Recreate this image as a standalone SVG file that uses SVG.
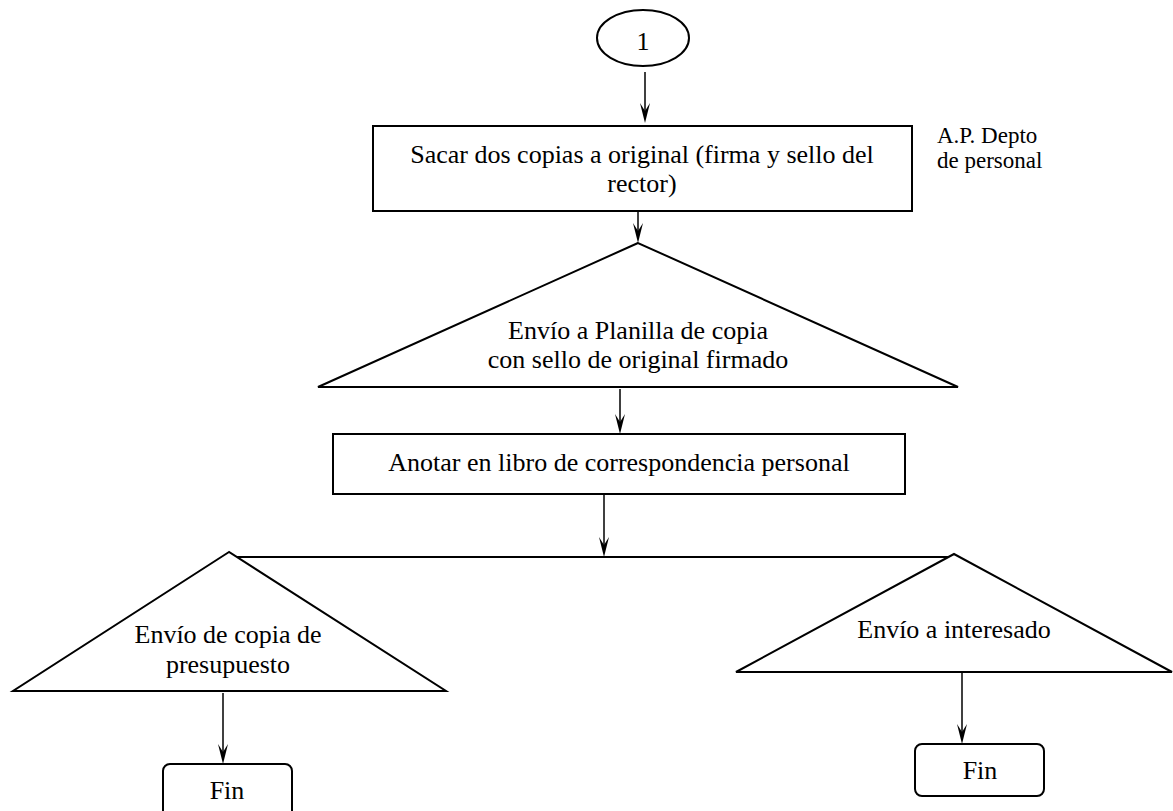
<svg xmlns="http://www.w3.org/2000/svg" width="1173" height="811" viewBox="0 0 1173 811">
<style>
.s{fill:#fff;stroke:#000;stroke-width:2}
.t{font-family:"Liberation Serif","Times New Roman",serif;font-size:26px;fill:#000;text-anchor:middle}
.l{font-family:"Liberation Serif","Times New Roman",serif;font-size:23px;fill:#000}
.c{stroke:#000;stroke-width:1.5;fill:none}
.h{fill:#000}
</style>
<rect width="1173" height="811" fill="#fff"/>
<g id="connectors">
<line class="c" x1="645" y1="72" x2="645" y2="118"/>
<path class="h" d="M640,103 L645,123 L650,103 L645,111 Z"/>
<line class="c" x1="638" y1="211" x2="638" y2="238"/>
<path class="h" d="M633,223 L638,243 L643,223 L638,231 Z"/>
<line class="c" x1="620" y1="389" x2="620" y2="428"/>
<path class="h" d="M615,414 L620,434 L625,414 L620,422 Z"/>
<line class="c" x1="604" y1="494" x2="604" y2="552"/>
<path class="h" d="M599,537 L604,557 L609,537 L604,545 Z"/>
<line x1="232" y1="557" x2="953" y2="557" stroke="#000" stroke-width="2"/>
<line class="c" x1="223" y1="693" x2="223" y2="758"/>
<path class="h" d="M218,744 L223,764 L228,744 L223,752 Z"/>
<line class="c" x1="962" y1="673" x2="962" y2="738"/>
<path class="h" d="M957,724 L962,744 L967,724 L962,732 Z"/>
</g>
<g id="n1">
<ellipse class="s" cx="643" cy="38" rx="46" ry="28"/>
<text class="t" x="643" y="50">1</text>
</g>
<g id="n2">
<rect class="s" x="373" y="126" width="539" height="85"/>
<text class="t" x="642" y="163">Sacar dos copias a original (firma y sello del</text>
<text class="t" x="642" y="192">rector)</text>
</g>
<g id="n2note">
<text class="l" x="937" y="143">A.P. Depto</text>
<text class="l" x="937" y="168">de personal</text>
</g>
<g id="n3">
<polygon class="s" points="638,243 318,387 958,387"/>
<text class="t" x="638" y="339">Envío a Planilla de copia</text>
<text class="t" x="638" y="368">con sello de original firmado</text>
</g>
<g id="n4">
<rect class="s" x="333" y="434" width="572" height="60"/>
<text class="t" x="619" y="471">Anotar en libro de correspondencia personal</text>
</g>
<g id="n5">
<polygon class="s" points="229,552 13,691 446,691"/>
<text class="t" x="228" y="643">Envío de copia de</text>
<text class="t" x="228" y="673">presupuesto</text>
</g>
<g id="n6">
<polygon class="s" points="954,554 736,672 1172,672"/>
<text class="t" x="954" y="638">Envío a interesado</text>
</g>
<g id="n7">
<rect class="s" x="163" y="764" width="129" height="60" rx="7"/>
<text class="t" x="227" y="799">Fin</text>
</g>
<g id="n8">
<rect class="s" x="915" y="744" width="129" height="52" rx="7"/>
<text class="t" x="980" y="779">Fin</text>
</g>
</svg>
